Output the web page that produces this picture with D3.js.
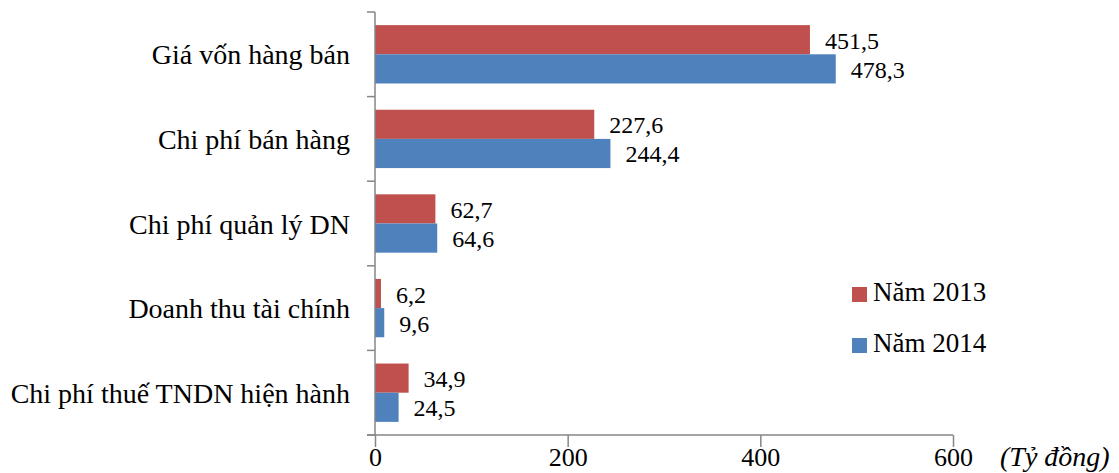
<!DOCTYPE html>
<html>
<head>
<meta charset="utf-8">
<script src="https://cdn.jsdelivr.net/npm/d3@7"></script>
<style>
  html, body { margin: 0; padding: 0; background: #fff; }
  svg { display: block; }
  svg text { font-family: "Liberation Serif", "DejaVu Serif", serif; fill: #000; }
</style>
</head>
<body>
<svg id="chart" width="1119" height="473"></svg>
<script>
// Chi phí và doanh thu tài chính (tỷ đồng)
const categories = [
  "Giá vốn hàng bán",
  "Chi phí bán hàng",
  "Chi phí quản lý DN",
  "Doanh thu tài chính",
  "Chi phí thuế TNDN hiện hành"
];
const series2013 = [451.5, 227.6, 62.7, 6.2, 34.9];
const series2014 = [478.3, 244.4, 64.6, 9.6, 24.5];
const seriesNames = ["Năm 2013", "Năm 2014"];
const xTicks = [0, 200, 400, 600];
const unitLabel = "(Tỷ đồng)";

const colors = ["#C0504D", "#4F81BD"];
const fmt = v => d3.format(".1f")(v).replace(".", ",");
const serif = "'Liberation Serif', 'DejaVu Serif', serif";

const svg = d3.select("#chart");
const plot = { left: 375, right: 953, top: 12, bottom: 435 };

const x = d3.scaleLinear().domain([0, 600]).range([plot.left, plot.right]);
const y = d3.scaleBand().domain(categories).range([plot.top, plot.bottom]).paddingInner(0).paddingOuter(0);
const inner = d3.scaleBand().domain([0, 1]).range([0, y.bandwidth()]).paddingInner(0).paddingOuter(0.45);

const data = categories.map((c, i) => ({ cat: c, values: [series2013[i], series2014[i]] }));

// Bars
const groups = svg.append("g").selectAll("g").data(data).join("g")
  .attr("transform", d => `translate(0,${y(d.cat)})`);

groups.selectAll("rect").data(d => d.values).join("rect")
  .attr("x", x(0))
  .attr("y", (v, j) => inner(j))
  .attr("width", v => x(v) - x(0))
  .attr("height", inner.bandwidth())
  .attr("fill", (v, j) => colors[j]);

groups.selectAll("text.val").data(d => d.values).join("text")
  .attr("class", "val")
  .attr("x", v => x(v) + 15)
  .attr("y", (v, j) => inner(j) + inner.bandwidth() / 2 + 9)
  .attr("font-family", serif)
  .attr("font-size", 24)
  .text(fmt);

// Category axis (left)
const yAxis = svg.append("g").attr("transform", `translate(${plot.left},0)`);
yAxis.append("line").attr("x1", 0).attr("x2", 0).attr("y1", plot.top).attr("y2", plot.bottom)
  .attr("stroke", "#868686").attr("stroke-width", 1.5);
const yEdges = categories.map(c => y(c)).concat([plot.bottom]);
yAxis.selectAll("line.tick").data(yEdges).join("line")
  .attr("class", "tick")
  .attr("x1", -8).attr("x2", 0)
  .attr("y1", d => d).attr("y2", d => d)
  .attr("stroke", "#868686").attr("stroke-width", 1.5);
yAxis.selectAll("text").data(categories).join("text")
  .attr("x", -25)
  .attr("y", d => y(d) + y.bandwidth() / 2 + 10)
  .attr("text-anchor", "end")
  .attr("font-family", serif)
  .attr("font-size", 28)
  .text(d => d);

// Value axis (bottom)
const xAxis = svg.append("g").attr("transform", `translate(0,${plot.bottom})`)
  .call(d3.axisBottom(x).tickValues(xTicks).tickSize(12).tickSizeOuter(0).tickFormat(d3.format("d")));
xAxis.select(".domain").attr("stroke", "#868686").attr("stroke-width", 1.5)
  .attr("d", `M${plot.left - 8},0H${plot.right}`);
xAxis.selectAll(".tick line").attr("stroke", "#868686").attr("stroke-width", 1.5);
xAxis.selectAll(".tick text")
  .attr("font-family", serif)
  .attr("font-size", 26).attr("fill", "#000").attr("y", 31).attr("dy", null);

svg.append("text")
  .attr("x", 1000).attr("y", plot.bottom + 31)
  .attr("font-family", serif)
  .attr("font-size", 28).attr("font-style", "italic")
  .text(unitLabel);

// Legend
const legend = svg.append("g").attr("transform", "translate(852,287)");
const li = legend.selectAll("g").data(seriesNames).join("g")
  .attr("transform", (d, i) => `translate(0,${i * 51})`);
li.append("rect").attr("width", 15).attr("height", 15).attr("fill", (d, i) => colors[i]);
li.append("text").attr("x", 21).attr("y", 14)
  .attr("font-family", serif)
  .attr("font-size", 27).text(d => d);
</script>
</body>
</html>
